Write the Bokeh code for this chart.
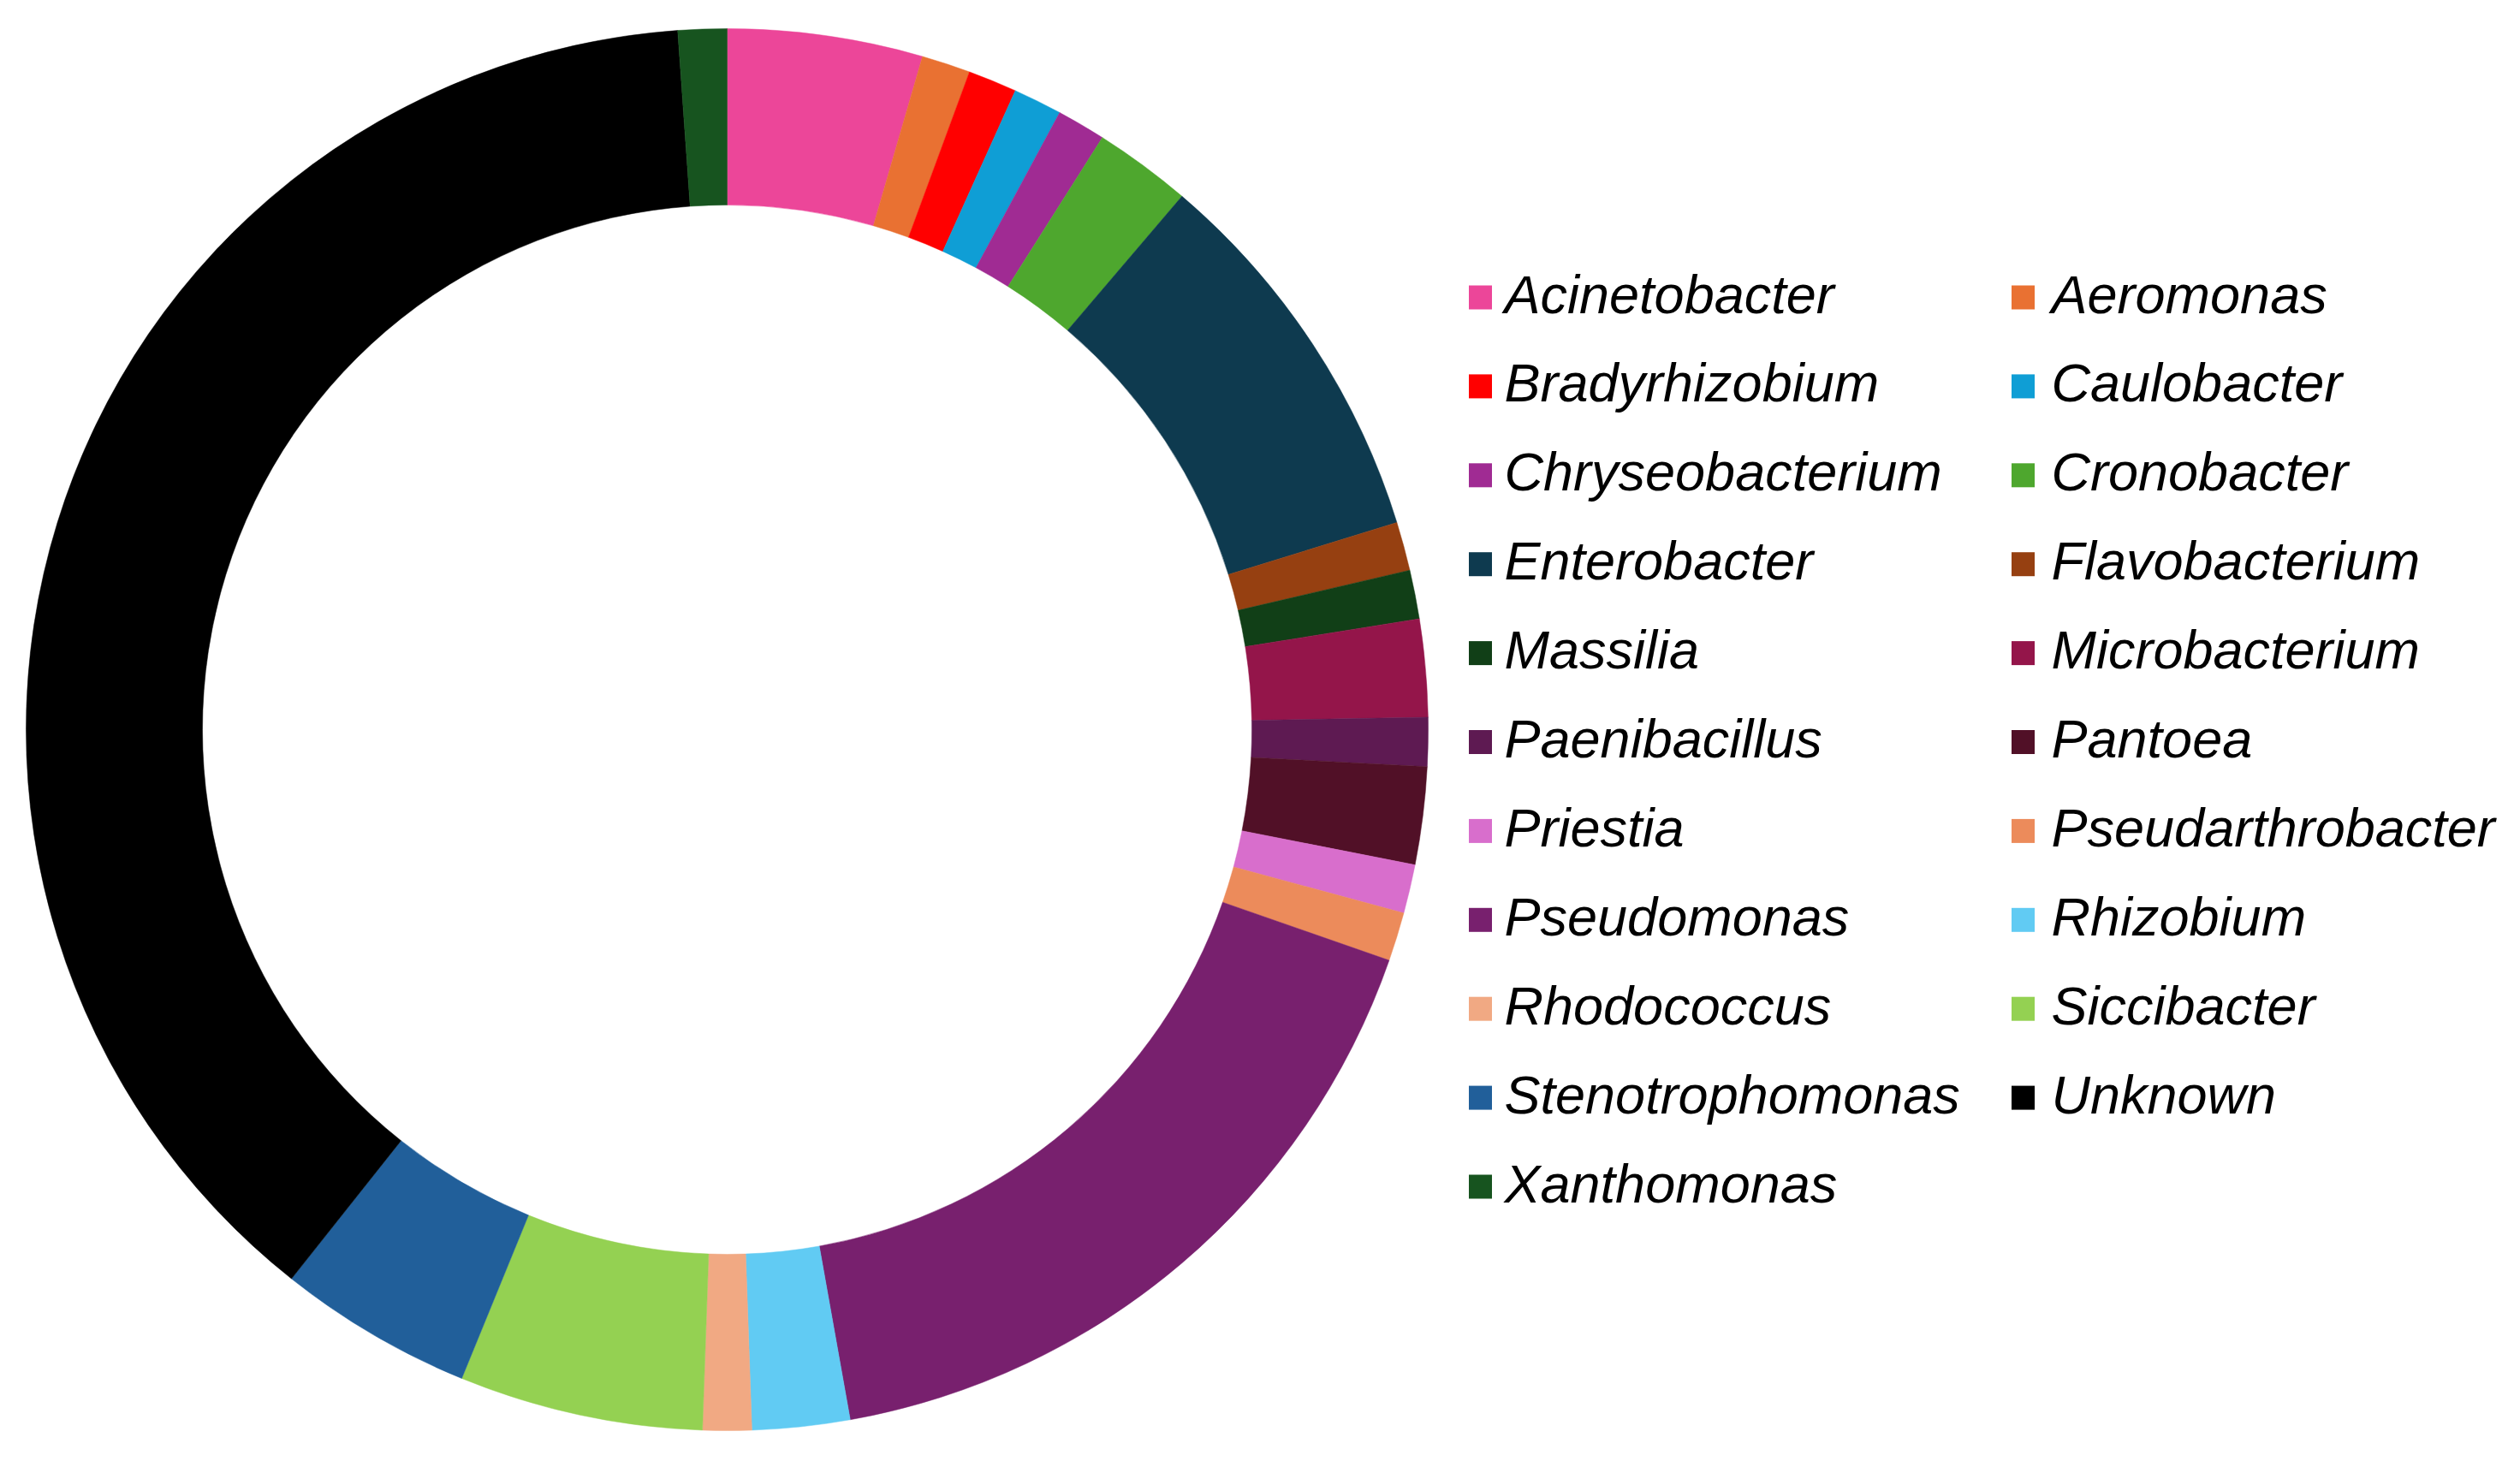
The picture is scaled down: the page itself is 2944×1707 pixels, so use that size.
import numpy as np
from bokeh.plotting import figure
from bokeh.models import Range1d, ColumnDataSource
from bokeh.core.properties import value
from bokeh.embed import file_html
from bokeh.resources import INLINE

# ---- data ----
genera = ["Acinetobacter", "Aeromonas", "Bradyrhizobium", "Caulobacter",
          "Chryseobacterium", "Cronobacter", "Enterobacter", "Flavobacterium",
          "Massilia", "Microbacterium", "Paenibacillus", "Pantoea",
          "Priestia", "Pseudarthrobacter", "Pseudomonas", "Rhizobium",
          "Rhodococcus", "Siccibacter", "Stenotrophomonas", "Unknown",
          "Xanthomonas"]
counts = [4, 1, 1, 1, 1, 2, 8, 1, 1, 2, 1, 2, 1, 1, 15, 2, 1, 5, 4, 34, 1]
colors = ["#EC4699", "#E97132", "#FF0000", "#0F9ED5", "#A02B93", "#4EA72E",
          "#0E3A4F", "#964011", "#113F17", "#94154A", "#5E1A52", "#511027",
          "#D86ECC", "#EC8B5B", "#78206E", "#61CBF3", "#F1A983", "#94D152",
          "#215F9A", "#000000", "#17541F"]

# ---- layout ----
W, H = 2928, 1691
cx, cy = 849, 839
r_in, r_out = 613, 819

vals = np.array(counts, dtype=float)
frac_end = np.cumsum(vals) / vals.sum()
frac_start = np.concatenate([[0.0], frac_end[:-1]])
start_angle = np.pi / 2 - frac_start * 2 * np.pi
end_angle = np.pi / 2 - frac_end * 2 * np.pi

src = ColumnDataSource(dict(start=start_angle, end=end_angle, color=colors, name=genera))

p = figure(width=W, height=H, output_backend="svg", toolbar_location=None,
           x_range=Range1d(0, W), y_range=Range1d(0, H),
           min_border=0, min_border_left=0, min_border_right=0,
           min_border_top=0, min_border_bottom=0)
p.axis.visible = False
p.grid.visible = False
p.outline_line_color = None
p.background_fill_color = "white"
p.border_fill_color = "white"

p.annular_wedge(x=cx, y=cy, inner_radius=r_in, outer_radius=r_out,
                start_angle="start", end_angle="end", direction="clock",
                fill_color="color", line_color="color", line_width=0.5, source=src)

# ---- legend (two columns, row-major) ----
row0_text = 1348
row0_sw = 1344
row_gap = 103.9
col_text_x = [1757, 2396]
col_sw_x = [1729, 2363]
lx, ly, tx, ty = [], [], [], []
for i, g in enumerate(genera):
    r, c = divmod(i, 2)
    lx.append(col_sw_x[c])
    ly.append(row0_sw - r * row_gap)
    tx.append(col_text_x[c])
    ty.append(row0_text - r * row_gap)

leg = ColumnDataSource(dict(lx=lx, ly=ly, tx=tx, ty=ty, color=colors, name=genera))
p.rect(x="lx", y="ly", width=27, height=28, width_units="screen", height_units="screen",
       fill_color="color", line_color=None, source=leg)
p.text(x="tx", y="ty", text="name", source=leg,
       text_font=value("Liberation Sans"), text_font_style="italic",
       text_font_size="63px", text_baseline="alphabetic", text_align="left",
       text_color="black")

open("out.html", "w").write(file_html(p, INLINE))
